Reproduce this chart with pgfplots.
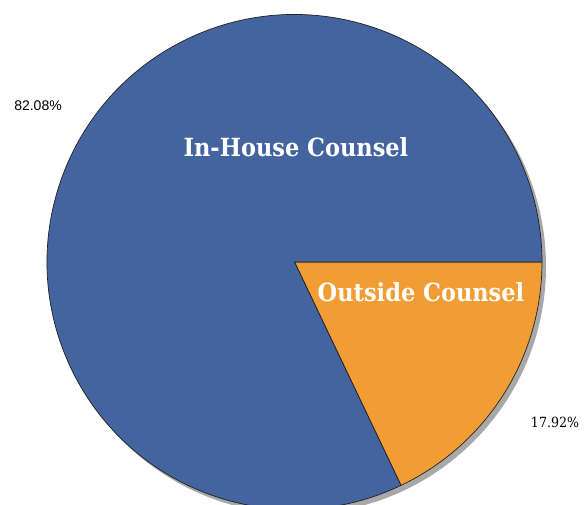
\documentclass[border=0pt]{standalone}
\usepackage{pgfplots}
\usepackage{pgfplotstable}
\pgfplotsset{compat=1.18}
\usepackage{fontspec}
\setmainfont{Liberation Sans}
\newfontfamily\slab{DejaVu Serif Condensed}
\newfontfamily\pctsans{Liberation Sans}

\definecolor{inhouse}{HTML}{4464A0}
\definecolor{outside}{HTML}{F29D34}
\definecolor{edge}{HTML}{202020}
\definecolor{shadow}{HTML}{A8A8A8}

% share of cases, percent
\pgfplotstableread{
label   value
Outside 17.92
InHouse 82.08
}\piedata

\pgfplotstablegetelem{0}{value}\of\piedata
\let\vOut\pgfplotsretval
\pgfmathsetmacro\aOut{-3.6*\vOut}

\begin{document}
\begin{tikzpicture}
\begin{axis}[
  width=587pt, height=504pt, scale only axis,
  xmin=0, xmax=587, ymin=0, ymax=504,
  hide axis, clip=false,
]
  % drop shadow
  \fill[shadow] (axis cs:298.5,237.5) circle[radius=247.5pt];
  % Outside Counsel slice, clockwise from 3 o'clock
  \filldraw[fill=outside, draw=edge, line width=0.7pt, line join=round]
    (axis cs:294.5,242) -- ++(0:247.5pt)
    arc[start angle=0, end angle=\aOut, radius=247.5pt] -- cycle;
  % In-House Counsel slice
  \filldraw[fill=inhouse, draw=edge, line width=0.7pt, line join=round]
    (axis cs:294.5,242) -- ++(\aOut:247.5pt)
    arc[start angle=\aOut, end angle=-360, radius=247.5pt] -- cycle;

  \node[text=white, font=\slab\bfseries\fontsize{25}{29}\selectfont]
    at (axis cs:296,357) {In-House Counsel};
  \node[text=white, font=\slab\bfseries\fontsize{25}{29}\selectfont]
    at (axis cs:421,212) {Outside Counsel};
  \node[text=black, font=\pctsans\fontsize{14}{17}\selectfont]
    at (axis cs:38,398) {82.08\%};
  \node[text=black, font=\slab\fontsize{14}{17}\selectfont]
    at (axis cs:555,82) {17.92\%};
\end{axis}
\pgfresetboundingbox
\useasboundingbox (current axis.south west) rectangle (current axis.north east);
\end{tikzpicture}
\end{document}
